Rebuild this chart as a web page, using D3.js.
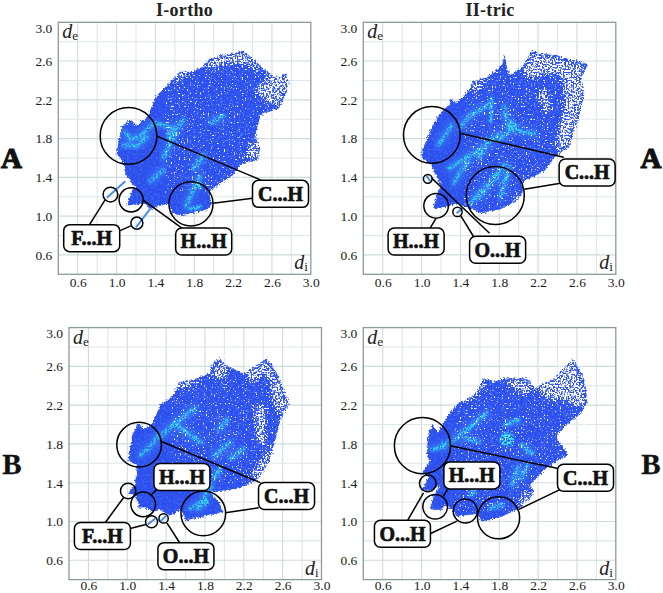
<!DOCTYPE html>
<html><head><meta charset="utf-8">
<script src="https://cdn.jsdelivr.net/npm/d3@7/dist/d3.min.js"></script>
<style>html,body{margin:0;padding:0;background:#fff}svg{display:block}</style>
</head><body><svg id="c" width="663" height="593"></svg>
<script>
const tickLabels=[0.6,1.0,1.4,1.8,2.2,2.6,3.0];
const gridValues=[0.6,0.8,1.0,1.2,1.4,1.6,1.8,2.0,2.2,2.4,2.6,2.8];

/* fingerprint regions: [d_i, d_e] */
const outlineA1=[[2.29,2.71],[2.36,2.66],[2.50,2.53],[2.62,2.44],[2.74,2.47],[2.77,2.37],[2.74,2.25],[2.67,2.11],[2.48,2.04],[2.43,1.82],[2.48,1.70],[2.45,1.58],[2.27,1.53],[2.22,1.44],[2.02,1.30],[1.95,1.25],[1.98,1.13],[1.93,1.06],[1.66,1.01],[1.57,1.03],[1.54,1.13],[1.41,1.10],[1.35,1.07],[1.28,1.13],[1.21,1.12],[1.105,1.11],[1.16,1.27],[1.19,1.29],[1.09,1.44],[1.07,1.55],[1.0,1.65],[1.05,1.92],[1.14,1.99],[1.21,1.93],[1.33,2.04],[1.40,2.23],[1.54,2.37],[1.655,2.49],[1.78,2.49],[1.88,2.54],[1.95,2.61],[2.07,2.66],[2.21,2.68]];
const outlineA2=[[1.856,2.67],[1.88,2.525],[1.915,2.456],[2.035,2.54],[2.14,2.714],[2.21,2.68],[2.38,2.66],[2.716,2.57],[2.65,2.44],[2.67,2.23],[2.62,2.03],[2.52,1.72],[2.38,1.61],[2.26,1.46],[2.05,1.36],[2.035,1.20],[1.93,1.13],[1.81,1.07],[1.62,1.03],[1.45,1.10],[1.35,1.13],[1.28,1.10],[1.12,1.08],[1.15,1.20],[1.20,1.32],[1.13,1.46],[1.09,1.54],[1.0,1.60],[1.0,1.67],[1.106,1.91],[1.175,2.04],[1.28,2.15],[1.305,2.216],[1.35,2.164],[1.45,2.25],[1.535,2.39],[1.69,2.44],[1.83,2.56]];
const outlineB1=[[1.94,2.683],[2.03,2.60],[2.20,2.53],[2.44,2.68],[2.54,2.53],[2.61,2.36],[2.67,2.235],[2.58,2.06],[2.51,1.79],[2.46,1.62],[2.35,1.44],[2.15,1.34],[1.855,1.305],[1.94,1.20],[1.99,1.10],[1.60,1.01],[1.58,1.06],[1.545,1.12],[1.44,1.06],[1.34,1.12],[1.27,1.10],[1.17,1.15],[1.115,1.13],[1.115,1.20],[1.08,1.27],[1.01,1.29],[1.08,1.39],[1.10,1.58],[1.01,1.63],[1.05,1.89],[1.115,2.01],[1.18,1.95],[1.25,1.995],[1.34,2.20],[1.46,2.29],[1.545,2.44],[1.72,2.477],[1.855,2.53],[1.87,2.61]];
const outlineB2=[[2.56,2.676],[2.64,2.545],[2.69,2.39],[2.705,2.235],[2.64,2.115],[2.45,1.96],[2.38,1.875],[2.45,1.77],[2.51,1.69],[2.29,1.56],[2.12,1.375],[2.155,1.32],[2.14,1.27],[2.0,1.13],[1.83,1.05],[1.62,1.0],[1.58,1.08],[1.365,1.05],[1.31,1.13],[1.24,1.17],[1.21,1.12],[1.09,1.12],[1.12,1.25],[1.19,1.375],[1.106,1.32],[1.01,1.32],[1.07,1.46],[1.01,1.505],[1.09,1.63],[1.055,1.685],[1.07,1.91],[1.11,1.995],[1.175,1.92],[1.23,2.03],[1.364,2.21],[1.536,2.30],[1.64,2.477],[1.74,2.44],[1.845,2.477],[2.07,2.477],[2.17,2.373],[2.38,2.494]];

/* thin isolated wings */
const spursA1=[[[0.90,1.19],[1.09,1.36]],[[1.20,0.885],[1.35,1.08]]];
const spursA2=[[[1.36,1.03],[1.42,1.08]],[[1.05,1.42],[1.09,1.36]]];
const spursB1=[[[1.21,0.97],[1.29,1.03]],[[1.34,1.0],[1.40,1.06]]];
const spursB2=[];

/* thinly populated parts of the plot */
const sparseA1=[
 [[1.90,2.51],[2.0,2.65],[2.31,2.70],[2.58,2.44],[2.45,2.51],[2.21,2.58],[2.0,2.52]],
 [[2.41,2.30],[2.62,2.49],[2.76,2.47],[2.77,2.34],[2.69,2.13],[2.52,2.18]],
 [[2.31,1.60],[2.38,1.77],[2.48,1.75],[2.46,1.58]],
 [[1.54,2.34],[1.655,2.49],[1.76,2.47],[1.62,2.37]],
 [[2.0,1.30],[2.22,1.46],[2.17,1.37],[2.03,1.29]]];
const sparseA2=[
 [[2.45,2.44],[2.67,2.54],[2.67,2.23],[2.62,2.03],[2.52,1.72],[2.38,1.63],[2.40,1.855],[2.465,2.16]],
 [[2.035,2.51],[2.14,2.70],[2.705,2.56],[2.48,2.44],[2.275,2.47],[2.10,2.405]],
 [[1.48,2.25],[1.55,2.39],[1.71,2.42],[1.59,2.30]],
 [[2.19,2.30],[2.29,2.34],[2.34,2.06],[2.26,2.06]],
 [[1.95,1.22],[2.035,1.25],[2.04,1.17],[1.97,1.13]]];
const sparseB1=[
 [[2.20,2.53],[2.44,2.68],[2.61,2.36],[2.66,2.22],[2.58,2.08],[2.51,2.20],[2.44,2.51],[2.27,2.41]],
 [[1.87,2.51],[1.94,2.68],[2.04,2.58],[1.99,2.44]],
 [[2.25,1.46],[2.37,1.65],[2.51,1.82],[2.46,1.62],[2.35,1.44]],
 [[1.49,2.37],[1.56,2.45],[1.73,2.48],[1.68,2.39]],
 [[2.30,2.20],[2.42,2.20],[2.44,1.79],[2.34,1.79]]];
const sparseB2=[
 [[2.19,2.39],[2.56,2.676],[2.69,2.39],[2.69,2.22],[2.62,2.17],[2.45,2.25],[2.275,2.25]],
 [[1.845,2.46],[2.07,2.46],[2.17,2.373],[2.07,2.29],[1.93,2.37]],
 [[1.98,1.20],[2.12,1.36],[2.14,1.27],[2.02,1.15]],
 [[1.38,2.22],[1.64,2.46],[1.66,2.37],[1.50,2.25]]];

/* bright ridges */
const ridgesA1=[
 [[1.09,1.87],[1.14,1.79],[1.24,1.82],[1.38,1.96]],[[1.07,1.73],[1.21,1.72],[1.31,1.82]],
 [[1.54,1.82],[1.69,1.99]],[[1.48,1.60],[1.55,1.75],[1.60,1.855]],[[1.35,1.36],[1.48,1.48]],
 [[1.79,1.49],[1.90,1.63]],[[1.71,1.10],[1.76,1.20],[1.81,1.32],[1.86,1.41]],[[1.76,1.07],[1.86,1.10]],
 [[1.97,1.96],[2.10,2.04]],[[1.41,1.96],[1.57,1.91]]];
const ridgesA2=[
 [[1.85,2.13],[1.87,2.01],[1.95,1.92]],[[1.81,1.80],[1.95,1.92],[2.03,1.87],[2.17,1.85]],
 [[1.40,1.92],[1.50,2.04],[1.71,2.16]],[[1.71,1.975],[1.725,2.215]],[[1.59,1.61],[1.67,1.75],[1.79,1.84]],
 [[1.28,1.49],[1.45,1.60],[1.64,1.70]],[[1.33,1.34],[1.40,1.46],[1.48,1.56]],[[1.59,1.20],[1.76,1.41],[1.85,1.53]],
 [[1.81,1.20],[1.86,1.37],[1.91,1.51]],[[1.175,1.735],[1.31,1.94]],[[1.50,1.13],[1.66,1.30]]];
const ridgesB1=[
 [[1.13,1.685],[1.24,1.77],[1.32,1.89]],[[1.34,1.875],[1.49,2.01],[1.70,2.17]],[[1.51,1.995],[1.65,1.89],[1.75,1.82]],
 [[1.94,1.94],[2.03,2.05]],[[1.89,1.67],[2.06,1.82]],[[1.735,1.13],[1.80,1.27],[1.87,1.375]],[[1.65,1.13],[1.77,1.20]],
 [[1.89,1.44],[1.96,1.55]],[[2.06,1.65],[2.20,1.75]]];
const ridgesB2=[
 [[1.106,1.74],[1.21,1.77],[1.295,1.82]],[[1.33,1.84],[1.45,1.93],[1.67,2.115]],
 [[1.45,1.86],[1.59,1.82]],[[1.86,1.995],[2.0,2.05]],[[2.03,1.79],[2.14,1.70]],[[1.93,1.375],[2.0,1.565]],
 [[2.02,1.44],[2.09,1.58]],[[1.50,1.27],[1.55,1.32]],[[1.71,1.13],[1.83,1.18]]];

/* compact bright spots: [d_i, d_e, radius] */
const spotsA1=[[1.57,1.84,0.05],[1.85,1.32,0.035]];
const spotsA2=[[1.93,1.93,0.05],[1.76,1.40,0.035]];
const spotsB1=[[1.80,1.20,0.04],[1.50,2.00,0.035]];
const spotsB2=[[1.88,1.85,0.075],[1.22,1.78,0.035]];

/* highlighted circles: [d_i, d_e, radius] */
const circlesA1=[[1.123,1.828,0.292],[1.766,1.127,0.227],[1.150,1.168,0.124],[0.937,1.223,0.076],[1.209,0.928,0.062]];
const circlesA2=[[1.106,1.838,0.292],[1.759,1.213,0.299],[1.150,1.106,0.127],[1.064,1.385,0.045],[1.370,1.044,0.048]];
const circlesB1=[[1.122,1.792,0.23],[1.783,1.083,0.23],[1.164,1.176,0.127],[1.009,1.314,0.079],[1.25,0.997,0.062],[1.374,1.031,0.048]];
const circlesB2=[[1.009,1.782,0.289],[1.793,1.038,0.217],[1.14,1.152,0.127],[1.45,1.107,0.124],[1.064,1.393,0.086]];

const leadersA1=[[[1.408,1.828],[2.482,1.374]],[[1.993,1.134],[2.402,1.185]],[[1.271,1.168],[1.673,0.876]],[[0.882,1.168],[0.72,0.91]],[[1.147,0.90],[1.037,0.85]]];
const leadersA2=[[[1.398,1.855],[2.464,1.608]],[[2.058,1.278],[2.43,1.34]],[[1.15,0.979],[1.088,0.876]],[[1.105,1.392],[1.70,0.824]],[[1.398,1.013],[1.535,0.79]]];
const leadersB1=[[[1.339,1.83],[2.371,1.40]],[[2.01,1.09],[2.354,1.141]],[[1.236,1.262],[1.305,1.331]],[[0.961,1.245],[0.772,0.987]],[[1.191,0.969],[1.03,0.928]],[[1.408,0.986],[1.539,0.78]]];
const leadersB2=[[[1.295,1.782],[2.395,1.548]],[[2.0,1.124],[2.43,1.331]],[[1.226,1.262],[1.277,1.348]],[[1.02,1.296],[0.858,1.014]],[[1.364,1.004],[1.088,0.873]]];

const labelTextsA1=["C...H","F...H","H...H"], labelAtA1=[[2.688,1.23],[0.744,0.773],[1.897,0.739]];
const labelTextsA2=["C...H","H...H","O...H"], labelAtA2=[[2.705,1.45],[0.944,0.739],[1.783,0.653]];
const labelTextsB1=["H...H","C...H","F...H","O...H"], labelAtB1=[[1.563,1.458],[2.64,1.262],[0.744,0.849],[1.604,0.642]];
const labelTextsB2=["H...H","C...H","O...H"], labelAtB2=[[1.518,1.475],[2.688,1.451],[0.803,0.873]];

const panelOrigins=[[58.3,22.3],[363.3,22.3],[69,327.6],[363.3,327.6]];
const panelSeeds=[3,8,14,21];
const panels=[
 {outline:outlineA1,spurs:spursA1,sparse:sparseA1,ridges:ridgesA1,spots:spotsA1,circles:circlesA1,leaders:leadersA1,texts:labelTextsA1,at:labelAtA1},
 {outline:outlineA2,spurs:spursA2,sparse:sparseA2,ridges:ridgesA2,spots:spotsA2,circles:circlesA2,leaders:leadersA2,texts:labelTextsA2,at:labelAtA2},
 {outline:outlineB1,spurs:spursB1,sparse:sparseB1,ridges:ridgesB1,spots:spotsB1,circles:circlesB1,leaders:leadersB1,texts:labelTextsB1,at:labelAtB1},
 {outline:outlineB2,spurs:spursB2,sparse:sparseB2,ridges:ridgesB2,spots:spotsB2,circles:circlesB2,leaders:leadersB2,texts:labelTextsB2,at:labelAtB2}];

const W=252.5,H=252;
const serif="'Liberation Serif','Times New Roman',serif";
const svg=d3.select("#c");
const defs=svg.append("defs");

panelSeeds.forEach((seed,i)=>{
  const fz=defs.append("filter").attr("id","fuzz"+i).attr("x","-5%").attr("y","-5%").attr("width","110%").attr("height","110%");
  fz.append("feTurbulence").attr("type","fractalNoise").attr("baseFrequency",0.55).attr("numOctaves",2).attr("seed",seed).attr("result","n");
  fz.append("feDisplacementMap").attr("in","SourceGraphic").attr("in2","n").attr("scale",5).attr("xChannelSelector","R").attr("yChannelSelector","G");
  const sp=defs.append("filter").attr("id","speck"+i).attr("x","-3%").attr("y","-3%").attr("width","106%").attr("height","106%").attr("color-interpolation-filters","sRGB");
  sp.append("feGaussianBlur").attr("in","SourceAlpha").attr("stdDeviation",2.5).attr("result","a");
  sp.append("feTurbulence").attr("type","fractalNoise").attr("baseFrequency",0.62).attr("numOctaves",1).attr("seed",seed+30);
  sp.append("feColorMatrix").attr("values","0 0 0 0 1  0 0 0 0 1  0 0 0 0 1  1 0 0 0 0").attr("result","n");
  sp.append("feComposite").attr("in","n").attr("in2","a").attr("operator","arithmetic").attr("k1",0).attr("k2",1).attr("k3",0.2).attr("k4",-0.45);
  const ct=sp.append("feComponentTransfer").attr("result","t");
  ct.append("feFuncA").attr("type","linear").attr("slope",9).attr("intercept",-1.6);
  sp.append("feFlood").attr("flood-color","#fff");
  sp.append("feComposite").attr("in2","t").attr("operator","in");
  const gr=defs.append("filter").attr("id","grain"+i).attr("x","-5%").attr("y","-5%").attr("width","110%").attr("height","110%").attr("color-interpolation-filters","sRGB");
  gr.append("feGaussianBlur").attr("in","SourceGraphic").attr("stdDeviation",0.8).attr("result","b");
  gr.append("feTurbulence").attr("type","fractalNoise").attr("baseFrequency",0.55).attr("numOctaves",2).attr("seed",seed+60);
  gr.append("feColorMatrix").attr("values","0 0 0 0 1  0 0 0 0 1  0 0 0 0 1  8 0 0 0 -3.3").attr("result","m");
  gr.append("feComposite").attr("in","b").attr("in2","m").attr("operator","in");
  const bd=defs.append("filter").attr("id","body"+i).attr("x","-3%").attr("y","-3%").attr("width","106%").attr("height","106%").attr("color-interpolation-filters","sRGB");
  bd.append("feTurbulence").attr("type","fractalNoise").attr("baseFrequency",0.45).attr("numOctaves",2).attr("seed",seed+90);
  bd.append("feColorMatrix").attr("values","0 0 0 0 1  0 0 0 0 1  0 0 0 0 1  6 0 0 0 -3.1").attr("result","m");
  bd.append("feComposite").attr("in","SourceGraphic").attr("in2","m").attr("operator","in");
});
defs.append("filter").attr("id","glow").attr("x","-30%").attr("y","-30%").attr("width","160%").attr("height","160%")
  .append("feGaussianBlur").attr("stdDeviation",3.5);

const x=d3.scaleLinear().domain([0.4,3.0]).range([0,W]);
const y=d3.scaleLinear().domain([0.4,3.0]).range([H,0]);
const line=d3.line().x(d=>x(d[0])).y(d=>y(d[1]));
const closed=d3.line().x(d=>x(d[0])).y(d=>y(d[1])).curve(d3.curveLinearClosed);
const rad=r=>x(r)-x(0);

panels.forEach((p,i)=>{
  const g=svg.append("g").attr("transform",`translate(${panelOrigins[i]})`);
  g.append("clipPath").attr("id","clip"+i).append("path").attr("d",closed(p.outline));

  g.selectAll(".gv").data(gridValues).join("line").attr("x1",d=>x(d)).attr("x2",d=>x(d)).attr("y1",0).attr("y2",H)
    .attr("stroke",(d,k)=>k%2?"#dde6e8":"#cfdadc").attr("stroke-width",1.1);
  g.selectAll(".gh").data(gridValues).join("line").attr("y1",d=>y(d)).attr("y2",d=>y(d)).attr("x1",0).attr("x2",W)
    .attr("stroke",(d,k)=>k%2?"#dde6e8":"#cfdadc").attr("stroke-width",1.1);

  const ax=g.append("g").attr("transform",`translate(0,${H})`)
    .call(d3.axisBottom(x).tickValues(tickLabels).tickFormat(d3.format(".1f")).tickSize(0).tickPadding(i<2?3:1));
  const ay=g.append("g")
    .call(d3.axisLeft(y).tickValues(tickLabels).tickFormat(d3.format(".1f")).tickSize(0).tickPadding(6));
  [ax,ay].forEach(a=>{a.select(".domain").remove();a.selectAll("text").attr("font-family",serif).attr("font-size",13.5).attr("fill","#1a1a1a");});
  ay.selectAll("text").filter(d=>d===3.0).attr("dy","0.75em");

  g.append("rect").attr("width",W).attr("height",H).attr("fill","none").attr("stroke","#8c9a9c").attr("stroke-width",1.3);

  const blob=g.append("g");
  blob.append("path").attr("d",closed(p.outline)).attr("fill","#2d50ee").attr("filter",`url(#fuzz${i})`);
  blob.selectAll(".sp").data(p.spurs).join("path").attr("d",line).attr("fill","none")
    .attr("stroke","#4a8ce8").attr("stroke-width",2);
  const inner=blob.append("g").attr("clip-path",`url(#clip${i})`);
  inner.append("rect").attr("width",W).attr("height",H).attr("fill","#3d78f2").attr("filter",`url(#body${i})`).attr("opacity",0.6);
  inner.selectAll(".rg").data(p.ridges).join("path").attr("d",line).attr("fill","none")
    .attr("stroke","#3f8ef5").attr("stroke-width",9).attr("stroke-linecap","round").attr("opacity",0.5).attr("filter","url(#glow)");
  const ridgeG=inner.append("g").attr("filter",`url(#grain${i})`);
  ridgeG.selectAll(".rc").data(p.ridges).join("path").attr("d",line).attr("fill","none")
    .attr("stroke","#2fe4ee").attr("stroke-width",3.2).attr("stroke-linecap","round");
  ridgeG.selectAll(".sc").data(p.spots).join("circle").attr("cx",d=>x(d[0])).attr("cy",d=>y(d[1])).attr("r",d=>rad(d[2]))
    .attr("fill","#2fe4ee");
  blob.append("g").attr("filter",`url(#speck${i})`)
    .selectAll(".z").data(p.sparse).join("path").attr("d",closed).attr("fill","#fff");

  g.selectAll(".cc").data(p.circles).join("circle").attr("cx",d=>x(d[0])).attr("cy",d=>y(d[1])).attr("r",d=>rad(d[2]))
    .attr("fill","none").attr("stroke","#000").attr("stroke-width",1.5);
  g.selectAll(".ld").data(p.leaders).join("path").attr("d",line).attr("fill","none").attr("stroke","#000").attr("stroke-width",1.5);
  const lab=g.selectAll(".lb").data(p.texts).join("g").attr("transform",(d,k)=>`translate(${x(p.at[k][0])},${y(p.at[k][1])})`);
  lab.append("rect").attr("x",-28).attr("y",-13.5).attr("width",56).attr("height",27).attr("rx",6)
    .attr("fill","#fff").attr("stroke","#000").attr("stroke-width",1.5);
  lab.append("text").text(d=>d).attr("text-anchor","middle").attr("dy","0.34em")
    .attr("font-family",serif).attr("font-weight","bold").attr("font-size",20)
    .attr("fill","#111").attr("stroke","#111").attr("stroke-width",0.7);

  const de=g.append("text").attr("x",4).attr("y",16).attr("font-family",serif).attr("font-size",20).attr("fill","#222");
  de.append("tspan").text("d").attr("font-style","italic");
  de.append("tspan").text("e").attr("font-size",13).attr("dy",2);
  const di=g.append("text").attr("x",W-3).attr("y",H-5).attr("text-anchor","end").attr("font-family",serif).attr("font-size",20).attr("fill","#222");
  di.append("tspan").text("d").attr("font-style","italic");
  di.append("tspan").text("i").attr("font-size",13).attr("dy",2);
});

const titleTexts=["I-ortho","II-tric"], titleX=[184.5,490];
svg.selectAll(".t").data(titleTexts).join("text").attr("x",(d,i)=>titleX[i]).attr("y",16)
  .attr("text-anchor","middle").attr("font-family",serif).attr("font-weight","bold").attr("font-size",18).attr("letter-spacing",0.3).attr("fill","#222").text(d=>d);
const rowTexts=["A","A","B","B"], rowX=[11.5,651,12,651], rowY=[168,168,474,474];
svg.selectAll(".r").data(rowTexts).join("text").attr("x",(d,i)=>rowX[i]).attr("y",(d,i)=>rowY[i])
  .attr("text-anchor","middle").attr("font-family",serif).attr("font-weight","bold").attr("font-size",29)
  .attr("fill","#111").attr("stroke","#111").attr("stroke-width",(d)=>d==="A"?1.2:0.3).text(d=>d);
</script></body></html>
